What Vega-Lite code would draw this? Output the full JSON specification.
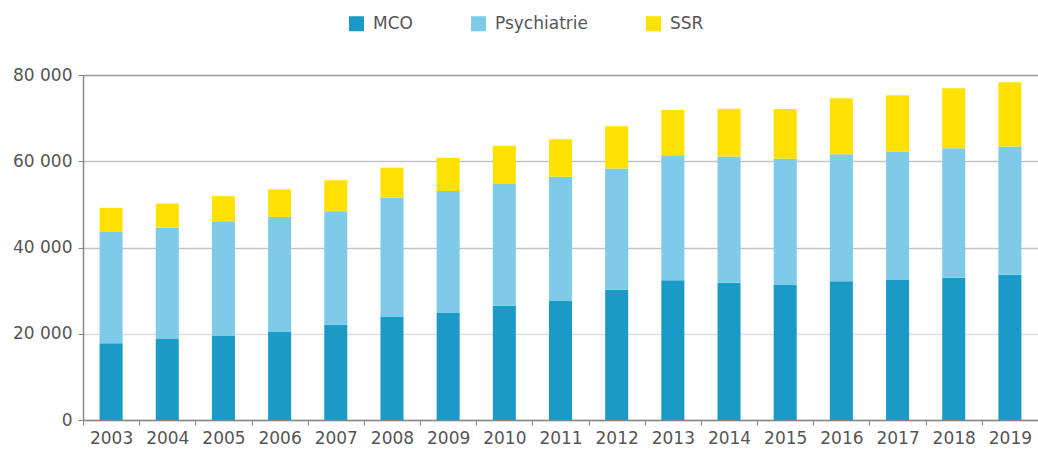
{
  "$schema": "https://vega.github.io/schema/vega-lite/v6.json",
  "autosize": "none",
  "width": 955,
  "height": 345,
  "padding": {"left": 83, "top": 75, "right": 0, "bottom": 34},
  "background": "white",
  "config": {"view": {"stroke": null}, "font": "DejaVu Sans"},
  "data": {"values": [
    {"year": "2003", "type": "MCO", "value": 17800}, {"year": "2003", "type": "Psychiatrie", "value": 25800}, {"year": "2003", "type": "SSR", "value": 5600},
    {"year": "2004", "type": "MCO", "value": 18800}, {"year": "2004", "type": "Psychiatrie", "value": 25800}, {"year": "2004", "type": "SSR", "value": 5600},
    {"year": "2005", "type": "MCO", "value": 19600}, {"year": "2005", "type": "Psychiatrie", "value": 26500}, {"year": "2005", "type": "SSR", "value": 5800},
    {"year": "2006", "type": "MCO", "value": 20400}, {"year": "2006", "type": "Psychiatrie", "value": 26700}, {"year": "2006", "type": "SSR", "value": 6400},
    {"year": "2007", "type": "MCO", "value": 22100}, {"year": "2007", "type": "Psychiatrie", "value": 26300}, {"year": "2007", "type": "SSR", "value": 7200},
    {"year": "2008", "type": "MCO", "value": 24000}, {"year": "2008", "type": "Psychiatrie", "value": 27600}, {"year": "2008", "type": "SSR", "value": 6900},
    {"year": "2009", "type": "MCO", "value": 24800}, {"year": "2009", "type": "Psychiatrie", "value": 28300}, {"year": "2009", "type": "SSR", "value": 7700},
    {"year": "2010", "type": "MCO", "value": 26500}, {"year": "2010", "type": "Psychiatrie", "value": 28200}, {"year": "2010", "type": "SSR", "value": 8900},
    {"year": "2011", "type": "MCO", "value": 27700}, {"year": "2011", "type": "Psychiatrie", "value": 28700}, {"year": "2011", "type": "SSR", "value": 8700},
    {"year": "2012", "type": "MCO", "value": 30200}, {"year": "2012", "type": "Psychiatrie", "value": 28100}, {"year": "2012", "type": "SSR", "value": 9800},
    {"year": "2013", "type": "MCO", "value": 32400}, {"year": "2013", "type": "Psychiatrie", "value": 28800}, {"year": "2013", "type": "SSR", "value": 10700},
    {"year": "2014", "type": "MCO", "value": 31800}, {"year": "2014", "type": "Psychiatrie", "value": 29300}, {"year": "2014", "type": "SSR", "value": 11100},
    {"year": "2015", "type": "MCO", "value": 31400}, {"year": "2015", "type": "Psychiatrie", "value": 29200}, {"year": "2015", "type": "SSR", "value": 11500},
    {"year": "2016", "type": "MCO", "value": 32200}, {"year": "2016", "type": "Psychiatrie", "value": 29400}, {"year": "2016", "type": "SSR", "value": 13000},
    {"year": "2017", "type": "MCO", "value": 32600}, {"year": "2017", "type": "Psychiatrie", "value": 29600}, {"year": "2017", "type": "SSR", "value": 13100},
    {"year": "2018", "type": "MCO", "value": 33000}, {"year": "2018", "type": "Psychiatrie", "value": 30000}, {"year": "2018", "type": "SSR", "value": 13900},
    {"year": "2019", "type": "MCO", "value": 33700}, {"year": "2019", "type": "Psychiatrie", "value": 29700}, {"year": "2019", "type": "SSR", "value": 14900}
  ]},
  "mark": {"type": "bar", "width": {"band": 0.41}},
  "encoding": {
    "x": {
      "field": "year", "type": "nominal",
      "scale": {"paddingInner": 0, "paddingOuter": 0},
      "axis": {
        "title": null, "labelAngle": 0, "tickBand": "extent",
        "domainColor": "#888", "domainWidth": 1.5, "tickColor": "#888", "tickSize": 5,
        "labelFontSize": 17, "labelColor": "#555", "labelPadding": 5
      }
    },
    "y": {
      "field": "value", "type": "quantitative", "stack": "zero",
      "scale": {"domain": [0, 80000], "nice": false},
      "axis": {
        "title": null, "values": [0, 20000, 40000, 60000, 80000],
        "labelExpr": "replace(format(datum.value, ',d'), ',', ' ')",
        "grid": true,
        "gridColor": {"condition": [{"test": "datum.value === 80000", "value": "#999"}, {"test": "datum.value === 20000", "value": "#dddddd"}], "value": "#c4c4c4"},
        "gridWidth": 1.5,
        "domainColor": "#888", "domainWidth": 1.5, "tickColor": "#888", "tickSize": 5,
        "labelFontSize": 17, "labelColor": "#555", "labelPadding": 6
      }
    },
    "order": {"field": "type", "type": "nominal", "sort": "ascending"},
    "color": {
      "field": "type", "type": "nominal",
      "scale": {"domain": ["MCO", "Psychiatrie", "SSR"], "range": ["#1a9ac6", "#7dcbe9", "#ffe100"]},
      "legend": {
        "title": null, "orient": "none", "direction": "horizontal",
        "legendX": 265, "legendY": -60,
        "symbolType": "square", "symbolSize": 225, "symbolStrokeWidth": 0,
        "labelFontSize": 17, "labelColor": "#555", "labelOffset": 8,
        "columnPadding": 57
      }
    }
  }
}
